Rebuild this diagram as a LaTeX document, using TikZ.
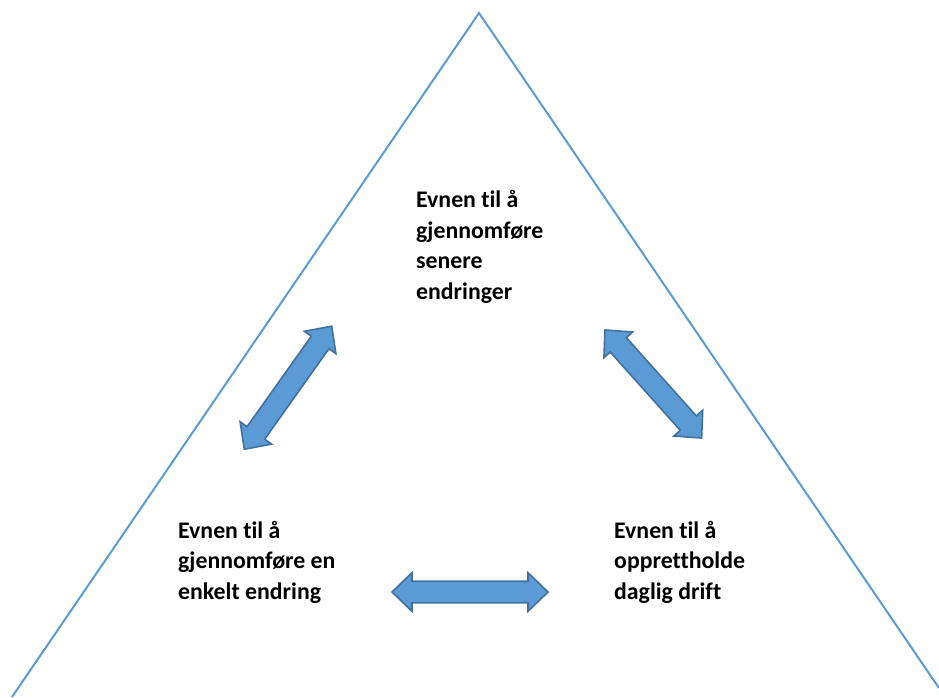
\documentclass[tikz,border=0pt]{standalone}
\usepackage{fontspec}
\setmainfont{Carlito}[Ligatures=NoCommon]
\usetikzlibrary{shapes.arrows}
\definecolor{office}{RGB}{91,155,213}
\definecolor{officedark}{RGB}{65,113,156}

\begin{document}
\begin{tikzpicture}[x=1pt,y=-1pt,
  lbl/.style={anchor=base west,align=left,inner sep=0pt,
     font=\fontsize{23.8}{30.5}\selectfont\bfseries},
  dbl/.style={double arrow,draw=officedark,fill=office,line width=1.6pt,
     inner xsep=0pt,inner ysep=10pt,double arrow head extend=8.5pt,
     double arrow tip angle=88}]
\useasboundingbox (0,0) rectangle (939,697);
\clip (0,0) rectangle (939,697);
% triangle
\coordinate (apex) at (479,13);
\coordinate (lfoot) at (12,697);
\coordinate (rfoot) at (939,688);
\draw[office,line width=2pt] (lfoot) -- (apex) -- (rfoot);
% texts (anchored at the last baseline)
\node[lbl] (later) at (416,299) {Evnen til å\\gjennomføre\\senere\\endringer};
\node[lbl] (single) at (178,599) {Evnen til å\\gjennomføre en\\enkelt endring};
\node[lbl] (daily) at (614,599) {Evnen til å\\opprettholde\\daglig drift};
% arrows
\node[dbl,minimum height=151pt,rotate=54.6] (al) at (288,387.7) {};
\node[dbl,minimum height=145pt,rotate=-48.2] (ar) at (653.3,384) {};
\node[dbl,minimum height=156pt] (ab) at (470,592) {};
\end{tikzpicture}
\end{document}
